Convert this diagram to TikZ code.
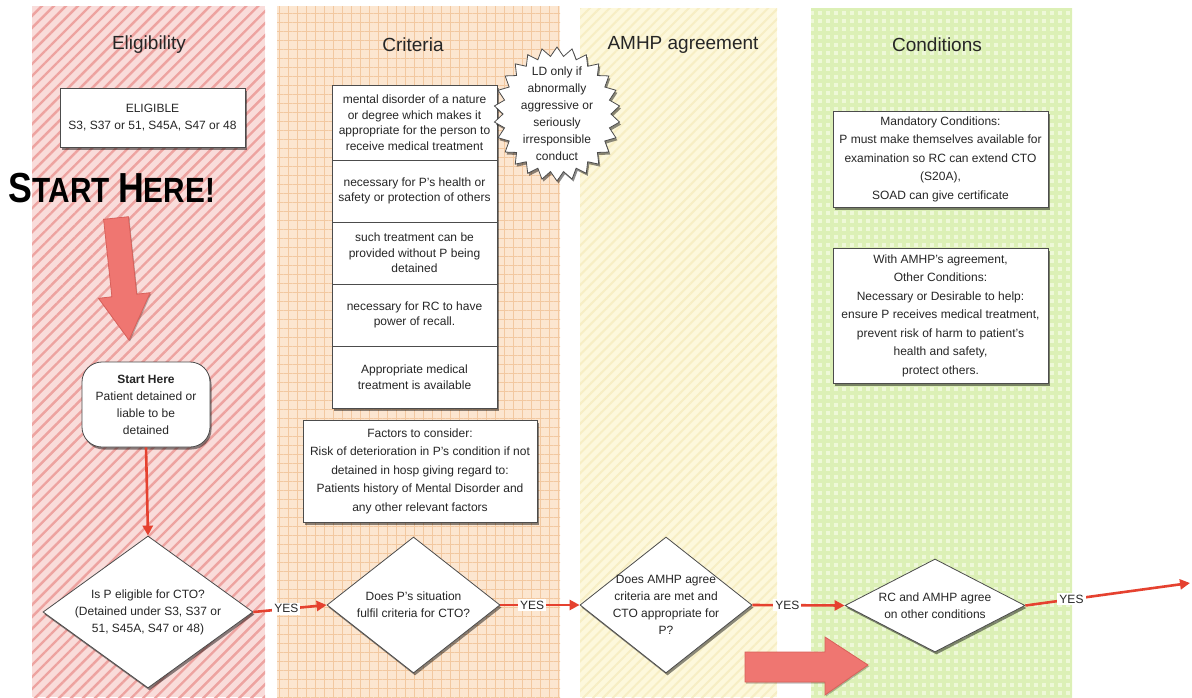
\documentclass[tikz,border=0pt]{standalone}
\usepackage{fontspec}
\setmainfont{Liberation Sans}
\usepackage{graphicx}
\usetikzlibrary{shapes.geometric,shapes.symbols,shadows,patterns.meta,arrows.meta}
\definecolor{elbg}{HTML}{F9DCDA}
\definecolor{elstripe}{HTML}{EDA3A0}
\definecolor{crbg}{HTML}{FCE6D0}
\definecolor{crgrid}{HTML}{F2C8A0}
\definecolor{ambg}{HTML}{FDF8DC}
\definecolor{amstripe}{HTML}{F7EEC4}
\definecolor{cobg}{HTML}{EEF8D8}
\definecolor{cocheck}{HTML}{D8EEAE}
\definecolor{flowred}{HTML}{E5412F}
\definecolor{bigarrow}{HTML}{EF7671}
\definecolor{bigarrowedge}{HTML}{D8605A}
\newcommand\bxf{\fontsize{12}{17}\selectfont}
\newcommand\bxfwide{\fontsize{12}{18.5}\selectfont}
\newcommand\bxfnarrow{\fontsize{12}{15.5}\selectfont}
\begin{document}
\begin{tikzpicture}[x=1pt,y=-1pt,
  shad/.style={drop shadow={shadow xshift=1.5pt,shadow yshift=-2.5pt,fill=black,opacity=0.45}},
  box/.style={draw=black!70,line width=0.8pt,fill=white,align=center,font=\bxf,text=black!85,inner sep=2pt,shad},
  crit/.style={box,font=\bxfnarrow,minimum width=165pt},
  dia/.style={box,shape=diamond,inner sep=-25pt},
  flow/.style={draw=flowred,line width=2.6pt,-{Triangle[length=10pt,width=10pt]}},
  yes/.style={fill=white,font=\fontsize{12}{14}\selectfont,text=black!85,inner sep=2pt},
  lanetitle/.style={font=\fontsize{19}{22}\selectfont,text=black!85},
  bigarr/.style={fill=bigarrow,draw=bigarrowedge,line width=0.8pt,drop shadow={shadow xshift=1pt,shadow yshift=-1.5pt,fill=black,opacity=0.25}}
]
\useasboundingbox (0,0) rectangle (1192,697);
\fill[white] (0,0) rectangle (1192,697);
% lanes
\fill[elbg] (32,6) rectangle (265,697);
\fill[pattern={Lines[angle=45,distance=8.5pt,line width=2.4pt]},pattern color=elstripe] (32,6) rectangle (265,697);
\fill[crbg] (277,6) rectangle (560,697);
\fill[pattern={Hatch[angle=0,distance=9pt,line width=0.9pt]},pattern color=crgrid] (277,6) rectangle (560,697);
\fill[ambg] (580,8) rectangle (777,697);
\fill[pattern={Lines[angle=45,distance=7pt,line width=2pt]},pattern color=amstripe] (580,8) rectangle (777,697);
\fill[cobg] (811,8) rectangle (1072,697);
\fill[pattern={Hatch[angle=0,distance=8pt,line width=3.5pt]},pattern color=cocheck,opacity=0.8] (811,8) rectangle (1072,697);
% titles
\node[lanetitle] (t1) at (149,45) {Eligibility};
\node[lanetitle] (t2) at (413,45) {Criteria};
\node[lanetitle] (t3) at (683,45) {AMHP agreement};
\node[lanetitle] (t4) at (937,45) {Conditions};
% eligibility lane
\node[box,minimum width=185pt,minimum height=59pt] (elig) at (152.5,117.5) {ELIGIBLE\\S3, S37 or 51, S45A, S47 or 48};
\node[inner sep=0pt] (starthere) at (112,188) {\scalebox{0.85}[1]{\bfseries\fontsize{42}{42}\selectfont S\fontsize{35}{35}\selectfont TART \fontsize{42}{42}\selectfont H\fontsize{35}{35}\selectfont ERE!}};
\draw[bigarr] (103.6,219.3) -- (128.4,216.7) -- (136.7,294.2) -- (150.1,292.7) -- (129,340) -- (98.5,298.3) -- (111.9,296.8) -- cycle;
\node[box,rounded corners=20pt,minimum width=128pt,minimum height=85pt] (start) at (146,404.5) {\textbf{Start Here}\\Patient detained or\\liable to be\\detained};
\node[dia,minimum width=210pt,minimum height=152pt] (d1) at (148,612) {Is P eligible for CTO?\\(Detained under S3, S37 or\\51, S45A, S47 or 48)};
\draw[flow] (start.south) -- (d1.north);
% criteria lane
\node[crit,minimum height=75pt] (c1) at (414.5,122.5) {mental disorder of a nature\\or degree which makes it\\appropriate for the person to\\receive medical treatment};
\node[crit,minimum height=62pt] (c2) at (414.5,191) {necessary for P's health or\\safety or protection of others};
\node[crit,minimum height=62pt] (c3) at (414.5,253) {such treatment can be\\provided without P being\\detained};
\node[crit,minimum height=62pt] (c4) at (414.5,315) {necessary for RC to have\\power of recall.};
\node[crit,minimum height=62pt] (c5) at (414.5,377) {Appropriate medical\\treatment is available};
\node[box,shape=starburst,starburst points=26,starburst point height=9pt,random starburst=0,inner sep=-12pt,minimum width=126pt,minimum height=134pt] (ld) at (557,114) {LD only if\\abnormally\\aggressive or\\seriously\\irresponsible\\conduct};
\node[box,font=\bxfwide,minimum width=234pt,minimum height=102pt] (factors) at (420,471) {Factors to consider:\\Risk of deterioration in P's condition if not\\detained in hosp giving regard to:\\Patients history of Mental Disorder and\\any other relevant factors};
\node[dia,minimum width=173pt,minimum height=136pt] (d2) at (413.5,605) {Does P's situation\\fulfil criteria for CTO?};
% AMHP lane
\node[dia,minimum width=172pt,minimum height=136pt] (d3) at (666,605) {Does AMHP agree\\criteria are met and\\CTO appropriate for\\P?};
% conditions lane
\node[box,font=\bxfwide,minimum width=215pt,minimum height=96pt] (mand) at (940.5,159) {Mandatory Conditions:\\P must make themselves available for\\examination so RC can extend CTO\\(S20A),\\SOAD can give certificate};
\node[box,font=\bxfwide,minimum width=215pt,minimum height=135pt] (other) at (940.5,315.5) {With AMHP's agreement,\\Other Conditions:\\Necessary or Desirable to help:\\ensure P receives medical treatment,\\prevent risk of harm to patient's\\health and safety,\\protect others.};
\node[dia,minimum width=180pt,minimum height=93pt] (d4) at (935,605.5) {RC and AMHP agree\\on other conditions};
\coordinate (out) at (1190,583);
% connectors
\draw[flow] (d1.east) -- node[yes,pos=0.45]{YES} (d2.west);
\draw[flow] (d2.east) -- node[yes,pos=0.4]{YES} (d3.west);
\draw[flow] (d3.east) -- node[yes,pos=0.38]{YES} (d4.west);
\draw[flow] (d4.east) -- node[yes,pos=0.28]{YES} (out);
% bottom big arrow
\draw[bigarr] (745,652) -- (825,652) -- (825,637) -- (868,665) -- (825,695) -- (825,682) -- (745,682) -- cycle;
\end{tikzpicture}
\end{document}
